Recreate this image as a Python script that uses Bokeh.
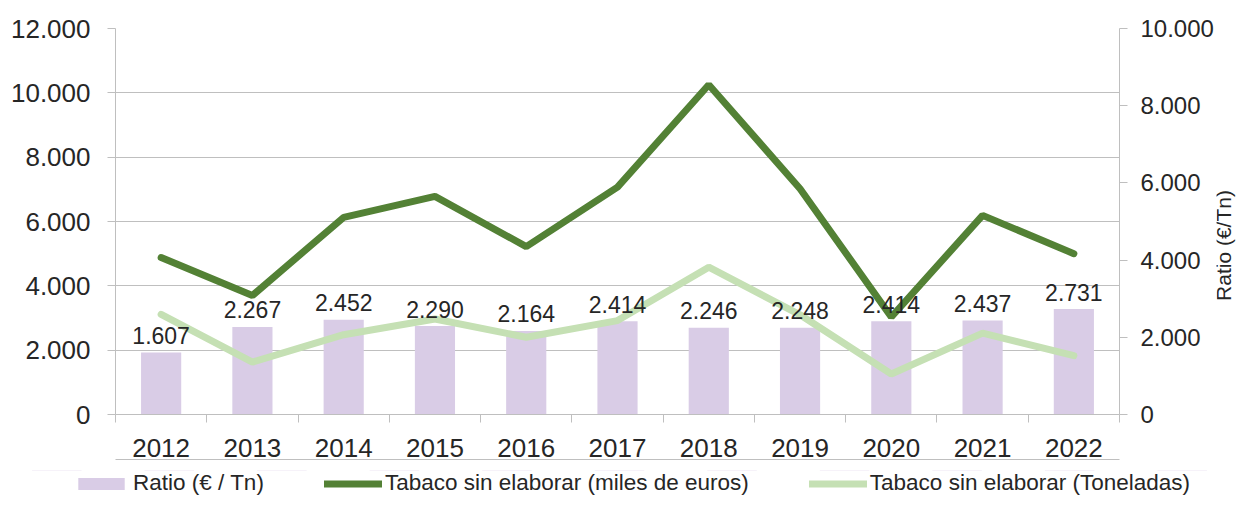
import math
from bokeh.plotting import figure
from bokeh.layouts import column, row
from bokeh.models import (Range1d, LinearAxis, FixedTicker, Legend, LegendItem, Label,
                          ColumnDataSource)
from bokeh.core.properties import value
from bokeh.embed import file_html
from bokeh.resources import INLINE

# ---- data ----
years = ["2012", "2013", "2014", "2015", "2016", "2017", "2018", "2019", "2020", "2021", "2022"]
ratio = [1607, 2267, 2452, 2290, 2164, 2414, 2246, 2248, 2414, 2437, 2731]
miles_euros = [4880, 3700, 6130, 6780, 5220, 7070, 10250, 7020, 3030, 6190, 5000]
toneladas = [3110, 1630, 2480, 2970, 2400, 2920, 4580, 3100, 1260, 2530, 1830]
left_ticks = [0, 2000, 4000, 6000, 8000, 10000, 12000]
right_ticks = [0, 2000, 4000, 6000, 8000, 10000]
series_labels = ["Ratio (€ / Tn)", "Tabaco sin elaborar (miles de euros)",
                 "Tabaco sin elaborar (Toneladas)"]
right_title = "Ratio (€/Tn)"

FONT = "Liberation Sans"
TXT = "#262626"
GRID = "#BFBFBF"
LAV = "#D9CCE6"
DARK = "#538135"
LIGHT = "#C5E0B4"

def fmt(v):
    return f"{v:,}".replace(",", ".")

xs = [i + 0.5 for i in range(len(years))]
src = ColumnDataSource(dict(x=xs, ratio=ratio, eur=miles_euros, ton=toneladas,
                            lab=[fmt(v) for v in ratio]))

# ---------------- main chart ----------------
p = figure(width=1216, height=470, output_backend="svg", toolbar_location=None,
           x_range=Range1d(0, len(years)), y_range=Range1d(0, 12000),
           min_border_left=115, min_border_right=97, min_border_top=28, min_border_bottom=56)
p.outline_line_color = None
p.background_fill_color = "white"
p.border_fill_color = "white"
p.extra_y_ranges = {"right": Range1d(0, 10000)}

xa = p.xaxis[0]
xa.ticker = FixedTicker(ticks=xs, minor_ticks=list(range(len(years) + 1)))
xa.major_label_overrides = {x: y for x, y in zip(xs, years)}
xa.major_tick_out = 0
xa.major_tick_in = 0
xa.minor_tick_out = 8
xa.minor_tick_in = 0
xa.minor_tick_line_color = GRID
xa.axis_line_color = GRID
xa.major_label_standoff = 16
xa.major_label_text_font = FONT
xa.major_label_text_font_size = "26px"
xa.major_label_text_color = TXT

xb = LinearAxis(ticker=FixedTicker(ticks=[]), axis_line_color=GRID,
                major_tick_line_color=None, minor_tick_line_color=None,
                major_label_text_font_size="0px", major_label_standoff=0)
p.add_layout(xb, "below")

ya = p.yaxis[0]
ya.ticker = FixedTicker(ticks=left_ticks)
ya.major_label_overrides = {v: fmt(v) for v in left_ticks}
ya.major_tick_out = 8
ya.major_tick_in = 0
ya.major_tick_line_color = GRID
ya.minor_tick_line_color = None
ya.axis_line_color = GRID
ya.major_label_standoff = 17
ya.major_label_text_font = FONT
ya.major_label_text_font_size = "26px"
ya.major_label_text_color = TXT

yr = LinearAxis(y_range_name="right", ticker=FixedTicker(ticks=right_ticks),
                major_label_overrides={v: fmt(v) for v in right_ticks})
yr.major_tick_out = 8
yr.major_tick_in = 0
yr.major_tick_line_color = GRID
yr.minor_tick_line_color = None
yr.axis_line_color = GRID
yr.major_label_standoff = 13
yr.major_label_text_font = FONT
yr.major_label_text_font_size = "24px"
yr.major_label_text_color = TXT
p.add_layout(yr, "right")

p.xgrid.visible = False
p.ygrid.ticker = FixedTicker(ticks=left_ticks)
p.ygrid.grid_line_color = GRID
p.ygrid.grid_line_width = 1

p.vbar(x="x", top="ratio", width=0.44, source=src, y_range_name="right",
       fill_color=LAV, line_color=None)
p.line(x="x", y="ton", source=src, line_color=LIGHT, line_width=7, line_cap="round")
p.line(x="x", y="eur", source=src, line_color=DARK, line_width=7, line_cap="round")
p.text(x="x", y="ratio", text="lab", source=src, y_range_name="right",
       text_align="center", text_baseline="alphabetic", y_offset=-17,
       text_font=value(FONT), text_font_size="23px", text_color=TXT)

# ---------------- right axis title strip ----------------
pt = figure(width=22, height=470, output_backend="svg", toolbar_location=None,
            x_range=Range1d(0, 1), y_range=Range1d(0, 1),
            x_axis_location=None, y_axis_location=None, min_border=0)
pt.outline_line_color = None
pt.grid.visible = False
pt.add_layout(Label(x=7, y=169, x_units="screen", y_units="screen", text=right_title,
                    angle=math.pi / 2, text_align="center", text_baseline="alphabetic",
                    text_font=FONT, text_font_size="21px", text_color=TXT))

# ---------------- legend strip ----------------
pl = figure(width=1238, height=26, output_backend="svg", toolbar_location=None,
            x_range=Range1d(0, len(years)), y_range=Range1d(-2, -1),
            x_axis_location=None, y_axis_location=None, min_border=0)
pl.outline_line_color = None
pl.grid.visible = False
lb = pl.vbar(x="x", top="ratio", width=0.44, source=src, fill_color=LAV, line_color=None)
ld = pl.line(x="x", y="eur", source=src, line_color=DARK, line_width=7, line_cap="round")
ll = pl.line(x="x", y="ton", source=src, line_color=LIGHT, line_width=7, line_cap="round")
legend = Legend(items=[
    LegendItem(label=series_labels[0], renderers=[lb]),
    LegendItem(label=series_labels[1], renderers=[ld]),
    LegendItem(label=series_labels[2], renderers=[ll]),
], orientation="horizontal", location=(72, 0))
legend.border_line_color = None
legend.background_fill_alpha = 0
legend.padding = 0
legend.margin = 0
legend.spacing = 60
legend.label_standoff = 3
legend.glyph_width = 58
legend.glyph_height = 15
legend.label_height = 20
legend.label_text_font = FONT
legend.label_text_font_size = "22.5px"
legend.label_text_color = TXT
pl.add_layout(legend)

layout = column(row(p, pt, spacing=0), pl, spacing=0)
open("out.html", "w").write(file_html(layout, INLINE))
